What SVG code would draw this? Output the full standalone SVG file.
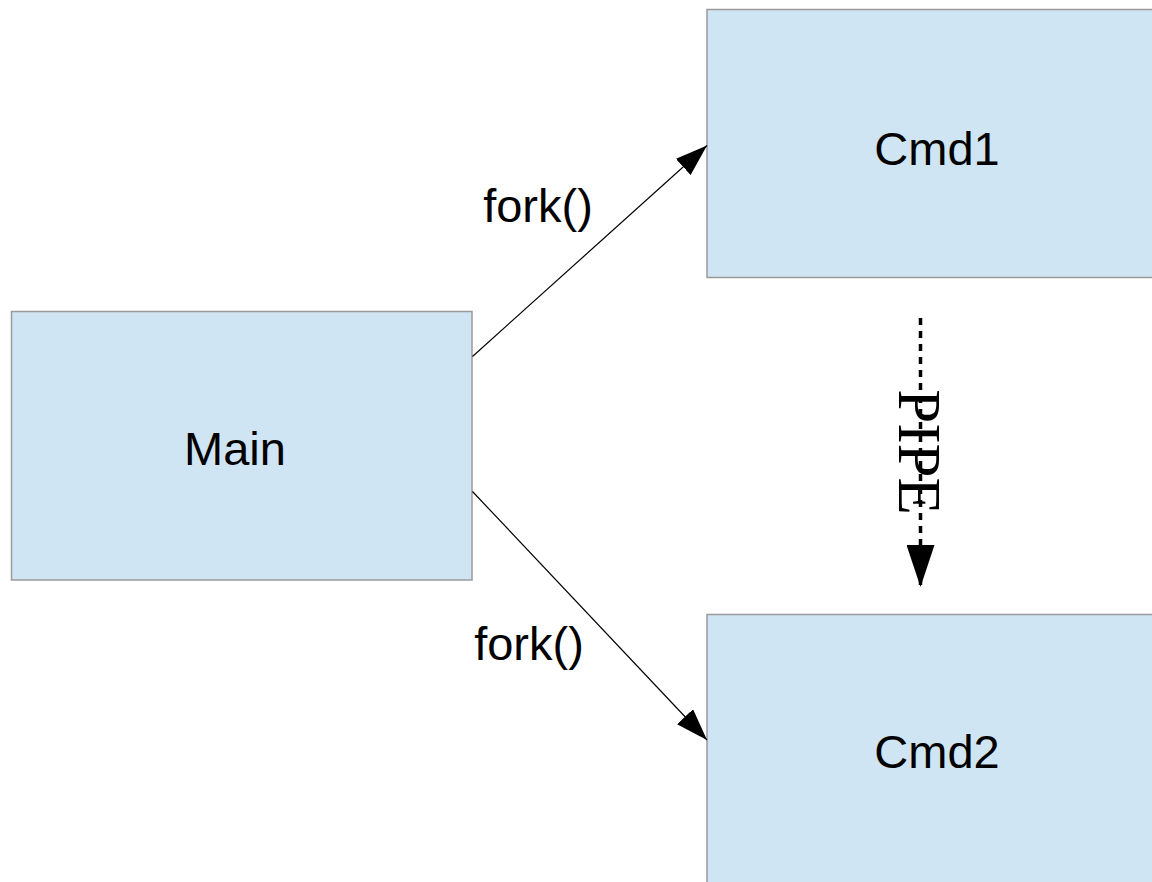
<svg xmlns="http://www.w3.org/2000/svg" width="1152" height="882" viewBox="0 0 1152 882">
  <style>
    .box { fill: #cfe5f3; stroke: #9a9a9a; stroke-width: 1.5; }
    .lbl { font-family: "Liberation Sans", Arial, sans-serif; font-size: 47px; fill: #000; }
    .edge { stroke: #000; stroke-width: 1.2; fill: none; }
    .pipe { stroke: #000; stroke-width: 3.5; fill: none; stroke-dasharray: 7 6; }
    .pipelbl { font-family: "Liberation Serif", "Times New Roman", serif; font-size: 61px; fill: #000; }
  </style>
  <defs>
    <marker id="head" viewBox="0 0 32 22" refX="32" refY="11" markerWidth="32" markerHeight="22" markerUnits="userSpaceOnUse" orient="auto">
      <path d="M0,0 L32,11 L0,22 Z" fill="#000"/>
    </marker>
    <marker id="bighead" viewBox="0 0 42 28" refX="42" refY="14" markerWidth="42" markerHeight="28" markerUnits="userSpaceOnUse" orient="auto">
      <path d="M0,0 L42,14 L0,28 Z" fill="#000"/>
    </marker>
  </defs>

  <rect width="1152" height="882" fill="#fff"/>

  <g id="main">
    <rect class="box" x="11.5" y="311.5" width="460.5" height="268.5"/>
    <text class="lbl" x="235" y="465" text-anchor="middle">Main</text>
  </g>

  <g id="cmd1">
    <rect class="box" x="707" y="9.5" width="461" height="268"/>
    <text class="lbl" x="937" y="165" text-anchor="middle">Cmd1</text>
  </g>

  <g id="cmd2">
    <rect class="box" x="707" y="614.5" width="461" height="280"/>
    <text class="lbl" x="937" y="768" text-anchor="middle">Cmd2</text>
  </g>

  <g id="connectors">
    <line class="edge" x1="472.5" y1="356.5" x2="707" y2="145.5" marker-end="url(#head)"/>
    <text class="lbl" x="538" y="222" text-anchor="middle">fork()</text>

    <line class="edge" x1="472.5" y1="491.5" x2="707" y2="740" marker-end="url(#head)"/>
    <text class="lbl" x="529" y="660" text-anchor="middle">fork()</text>

    <line class="pipe" x1="920.5" y1="318" x2="920.5" y2="587" marker-end="url(#bighead)"/>
    <text class="pipelbl" transform="translate(899,452) rotate(90)" text-anchor="middle">PIPE</text>
  </g>
</svg>
